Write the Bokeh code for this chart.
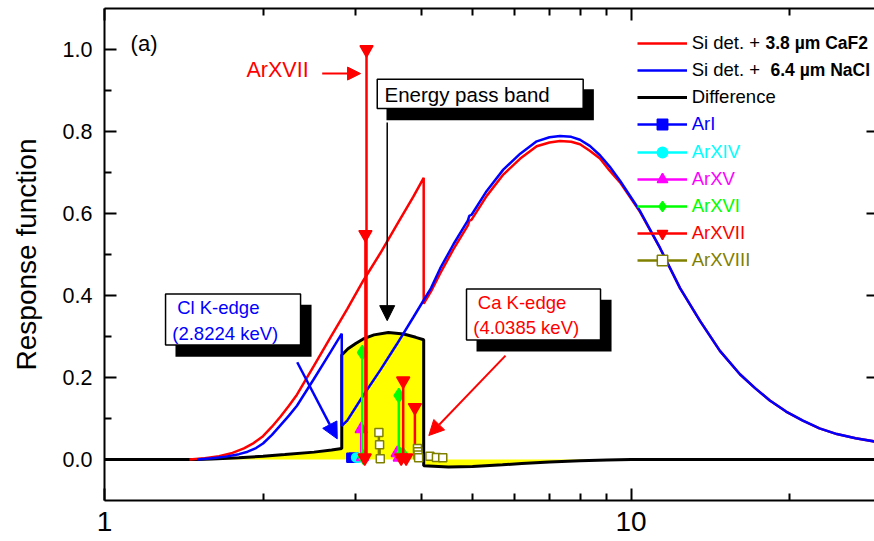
from bokeh.plotting import figure
from bokeh.models import (Range1d, FixedTicker, PrintfTickFormatter, CustomJSTickFormatter,
                          LinearAxis, LogAxis, Legend, LegendItem, Label, Arrow, NormalHead,
                          BoxAnnotation)
from bokeh.embed import file_html
from bokeh.resources import INLINE

FONT = "Liberation Sans"

# ---------------- data ----------------
caf2_e = [1.45, 1.55, 1.65, 1.75, 1.84, 1.92, 2.0, 2.08, 2.16, 2.24, 2.32, 2.5, 2.69, 2.89, 3.1,
          3.34, 3.59, 3.86, 4.0385, 4.0385, 4.17, 4.34, 4.6, 4.9, 4.93, 4.98, 5.32, 5.72, 6.16,
          6.62, 7.0, 7.33, 7.7, 8.0, 8.35, 8.73, 9.1, 9.53, 10.4, 11.35, 12.39, 13.52, 14.75, 16.1,
          17.2, 18.35, 19.7, 21.2, 22.8, 24.6, 26.7, 29.0]
caf2_r = [0.0, 0.003, 0.008, 0.016, 0.027, 0.040, 0.057, 0.080, 0.105, 0.131, 0.158, 0.229, 0.299,
          0.367, 0.436, 0.503, 0.572, 0.641, 0.687, 0.380, 0.410, 0.454, 0.513, 0.571, 0.582,
          0.585, 0.643, 0.695, 0.734, 0.764, 0.773, 0.777, 0.775, 0.769, 0.753, 0.734, 0.705,
          0.676, 0.604, 0.516, 0.418, 0.338, 0.265, 0.208, 0.174, 0.144, 0.117, 0.095, 0.076,
          0.062, 0.052, 0.044]

nacl_e = [1.5, 1.6, 1.7, 1.8, 1.87, 1.94, 2.0, 2.08, 2.16, 2.24, 2.32, 2.5, 2.69, 2.8224, 2.8224,
          2.89, 3.1, 3.34, 3.59, 3.86, 4.04, 4.17, 4.34, 4.6, 4.9, 4.93, 4.98, 5.32, 5.72, 6.16,
          6.62, 7.0, 7.33, 7.7, 8.0, 8.35, 8.73, 9.1, 9.53, 10.4, 11.35, 12.39, 13.52, 14.75, 16.1,
          17.2, 18.35, 19.7, 21.2, 22.8, 24.6, 26.7, 29.0]
nacl_r = [0.0, 0.003, 0.007, 0.013, 0.019, 0.028, 0.039, 0.060, 0.084, 0.107, 0.131, 0.197, 0.263,
          0.307, 0.082, 0.095, 0.156, 0.218, 0.281, 0.347, 0.389, 0.418, 0.466, 0.525, 0.583,
          0.594, 0.597, 0.655, 0.707, 0.746, 0.776, 0.786, 0.789, 0.787, 0.780, 0.765, 0.742,
          0.715, 0.680, 0.606, 0.516, 0.418, 0.338, 0.265, 0.208, 0.174, 0.144, 0.117, 0.095,
          0.076, 0.062, 0.052, 0.044]

diff_e = [1.0, 1.5, 1.6, 1.8, 2.0, 2.2, 2.5, 2.7, 2.8224, 2.8224, 2.9, 3.0, 3.1, 3.25, 3.46, 3.7,
          3.9, 4.0385, 4.0385, 4.5, 5.0, 5.7, 6.2, 7.0, 8.0, 9.0, 10.0, 29.0]
diff_r = [0.0, 0.0, 0.001, 0.004, 0.008, 0.012, 0.018, 0.023, 0.027, 0.255, 0.270, 0.283, 0.294,
          0.304, 0.310, 0.306, 0.298, 0.292, -0.015, -0.018, -0.017, -0.013, -0.010, -0.006,
          -0.003, -0.001, 0.0, 0.0]

arI_e = [2.943, 2.975]
arI_r = [0.004, 0.004]
arXIV_e = [3.005, 3.035]
arXIV_r = [0.005, 0.004]
arXV_e = [3.073, 3.09, 3.597, 3.63]
arXV_r = [0.074, 0.006, 0.016, 0.005]
arXVI_e = [3.087, 3.10, 3.622, 3.65, 3.70]
arXVI_r = [0.261, 0.006, 0.156, 0.012, 0.010]
arXVII_e = [3.13, 3.145, 3.12, 3.66, 3.692, 3.74, 3.886]
arXVII_r = [0.549, 1.0, 0.004, 0.004, 0.192, 0.004, 0.127]
arXVIII_e = [3.32, 3.33, 3.34, 3.93, 3.935, 3.94, 3.95, 4.15, 4.27, 4.39]
arXVIII_r = [0.066, 0.036, 0.002, 0.027, 0.019, 0.011, 0.004, 0.008, 0.005, 0.004]

x_ticks = [1, 10]
x_minor = [2, 3, 4, 5, 6, 7, 8, 9, 20]
y_ticks = [0.0, 0.2, 0.4, 0.6, 0.8, 1.0]
y_minor = [0.1, 0.3, 0.5, 0.7, 0.9]
right_ticks = [0.0, 0.2, 0.4, 0.6, 0.8]   # the 1.0 tick is hidden behind the legend

# ---------------- figure ----------------
p = figure(width=874, height=541, x_axis_type="log",
           x_range=Range1d(1, 29.0), y_range=Range1d(-0.1, 1.1),
           output_backend="svg", toolbar_location=None,
           min_border_left=104, min_border_right=0, min_border_top=8, min_border_bottom=41)
p.outline_line_color = None
p.grid.visible = False
p.background_fill_color = "white"
p.border_fill_color = "white"

xt = FixedTicker(ticks=x_ticks, minor_ticks=x_minor)
yt = FixedTicker(ticks=y_ticks, minor_ticks=y_minor)

xa = p.xaxis[0]
xa.ticker = xt
xa.formatter = PrintfTickFormatter(format="%d")
xa.major_label_text_font_size = "28px"
xa.major_label_standoff = 11
ya = p.yaxis[0]
ya.ticker = yt
ya.formatter = PrintfTickFormatter(format="%.1f")
ya.major_label_text_font_size = "21.5px"
ya.major_label_standoff = 12
ya.axis_label = "Response function"
ya.axis_label_text_font = FONT
ya.axis_label_text_font_size = "28px"
ya.axis_label_text_font_style = "normal"
ya.axis_label_text_color = "black"
ya.axis_label_standoff = 18
for ax in (xa, ya):
    ax.axis_line_width = 2
    ax.axis_line_color = "black"
    ax.major_tick_in = 12
    ax.major_tick_out = 0
    ax.minor_tick_in = 7
    ax.minor_tick_out = 0
    ax.major_tick_line_width = 2
    ax.minor_tick_line_width = 2
    ax.major_tick_line_color = "black"
    ax.minor_tick_line_color = "black"
    ax.major_label_text_font = FONT
    ax.major_label_text_color = "black"

empty = CustomJSTickFormatter(code="return ''")
top = LogAxis(ticker=xt, formatter=empty, major_label_text_font_size="0px",
              axis_line_width=2, major_tick_in=12, major_tick_out=0, minor_tick_in=7,
              minor_tick_out=0, major_tick_line_width=2, minor_tick_line_width=2,
              major_label_standoff=0)
p.add_layout(top, "above")
right = LinearAxis(ticker=FixedTicker(ticks=right_ticks), formatter=empty,
                   major_label_text_font_size="0px", axis_line_color=None,
                   major_tick_in=8, major_tick_out=0, major_tick_line_width=2,
                   minor_tick_line_color=None, major_label_standoff=0)
p.add_layout(right, "right")

# ---------------- curves ----------------
p.varea(x=diff_e, y1=0, y2=diff_r, fill_color="#FFFF00")
r_diff = p.line(diff_e, diff_r, line_color="black", line_width=3)
r_caf2 = p.line(caf2_e, caf2_r, line_color="#FF0000", line_width=2.5)
r_nacl = p.line(nacl_e, nacl_r, line_color="#0000FF", line_width=2.5)

ar_series = [
    ("ArI", arI_e, arI_r, "#0000FF", "square", "#0000FF", 9),
    ("ArXIV", arXIV_e, arXIV_r, "#00FFFF", "circle", "#00FFFF", 9),
    ("ArXV", arXV_e, arXV_r, "#FF00FF", "triangle", "#FF00FF", 12),
    ("ArXVI", arXVI_e, arXVI_r, "#00FF00", "diamond", "#00FF00", 14),
    ("ArXVII", arXVII_e, arXVII_r, "#FF0000", "inverted_triangle", "#FF0000", 13),
    ("ArXVIII", arXVIII_e, arXVIII_r, "#808000", "square", "white", 8),
]
ar_renderers = []
for name, e, r, col, mk, fill, sz in ar_series:
    seg = p.segment(x0=e, y0=[0] * len(e), x1=e, y1=r, line_color=col, line_width=2.5)
    sc = p.scatter(e, r, marker=mk, size=sz, fill_color=fill, line_color=col, line_width=1.5)
    ar_renderers.append((name, col, [seg, sc]))

# ---------------- legend (one row per entry) ----------------
rows = [("Si det. +", "black", [r_caf2]),
        ("Si det. +", "black", [r_nacl]),
        ("Difference", "black", [r_diff])] + ar_renderers
FRAME_H = 541 - 8 - 41
for i, (lab_txt, col, rends) in enumerate(rows):
    cy = FRAME_H - (42.7 + 27.2 * i - 8)
    lg = Legend(items=[LegendItem(label=lab_txt, renderers=rends)], location=(532.7, cy - 13),
                glyph_width=50, glyph_height=26, label_height=20, label_standoff=5,
                padding=0, margin=0, spacing=0, border_line_color=None,
                background_fill_alpha=0, label_text_font=FONT, label_text_font_size="18.5px",
                label_text_color=col)
    p.add_layout(lg, "center")
for txt, xs, i in (("3.8 µm CaF2", 661, 0), ("6.4 µm NaCl", 666, 1)):
    p.add_layout(Label(x=xs, y=FRAME_H - (42.7 + 27.2 * i - 8), x_units="screen", y_units="screen",
                       text=txt, text_font=FONT, text_font_size="17.5px", text_font_style="bold",
                       text_baseline="middle", text_color="black"))

# ---------------- annotations ----------------
def box(l, r, t, b, shadow):
    return BoxAnnotation(left=l, right=r, top=t, bottom=b,
                         fill_color="black" if shadow else "white", fill_alpha=1,
                         line_color="black", line_alpha=0 if shadow else 1, line_width=1.5,
                         level="annotation")

# shadows then boxes
p.add_layout(box(3.432, 8.50, 0.9033, 0.8277, True))
p.add_layout(box(3.296, 8.112, 0.9276, 0.856, False))
p.add_layout(box(1.364, 2.473, 0.3777, 0.2505, True))
p.add_layout(box(1.306, 2.357, 0.4038, 0.2795, False))
p.add_layout(box(5.088, 9.183, 0.3899, 0.2632, True))
p.add_layout(box(4.870, 8.751, 0.4159, 0.2917, False))

def lab(x, y, text, color, size):
    p.add_layout(Label(x=x, y=y, text=text, text_color=color, text_font=FONT,
                       text_font_size=size, text_baseline="middle", text_align="left"))

lab(1.121, 1.0136, "(a)", "black", "22px")
lab(1.861, 0.951, "ArXVII", "#FF0000", "21.5px")
lab(3.402, 0.8894, "Energy pass band", "black", "20.5px")
lab(1.374, 0.3704, "Cl K-edge", "#0000FF", "18.5px")
lab(1.345, 0.307, "(2.8224 keV)", "#0000FF", "18.5px")
lab(5.117, 0.3826, "Ca K-edge", "#FF0000", "18.5px")
lab(5.015, 0.3216, "(4.0385 keV)", "#FF0000", "18.5px")

def arrow(xs, ys, xe, ye, col, w, hs):
    p.add_layout(Arrow(end=NormalHead(size=hs, fill_color=col, line_color=col),
                       x_start=xs, y_start=ys, x_end=xe, y_end=ye,
                       line_color=col, line_width=w))

arrow(2.591, 0.9413, 3.064, 0.9413, "#FF0000", 2, 13)
arrow(3.443, 0.8219, 3.443, 0.3387, "black", 1.5, 15)
arrow(2.323, 0.2371, 2.767, 0.0504, "#0000FF", 2.5, 16)
arrow(5.776, 0.2534, 4.130, 0.0585, "#FF0000", 2, 15)

open("out.html", "w").write(file_html(p, INLINE))
